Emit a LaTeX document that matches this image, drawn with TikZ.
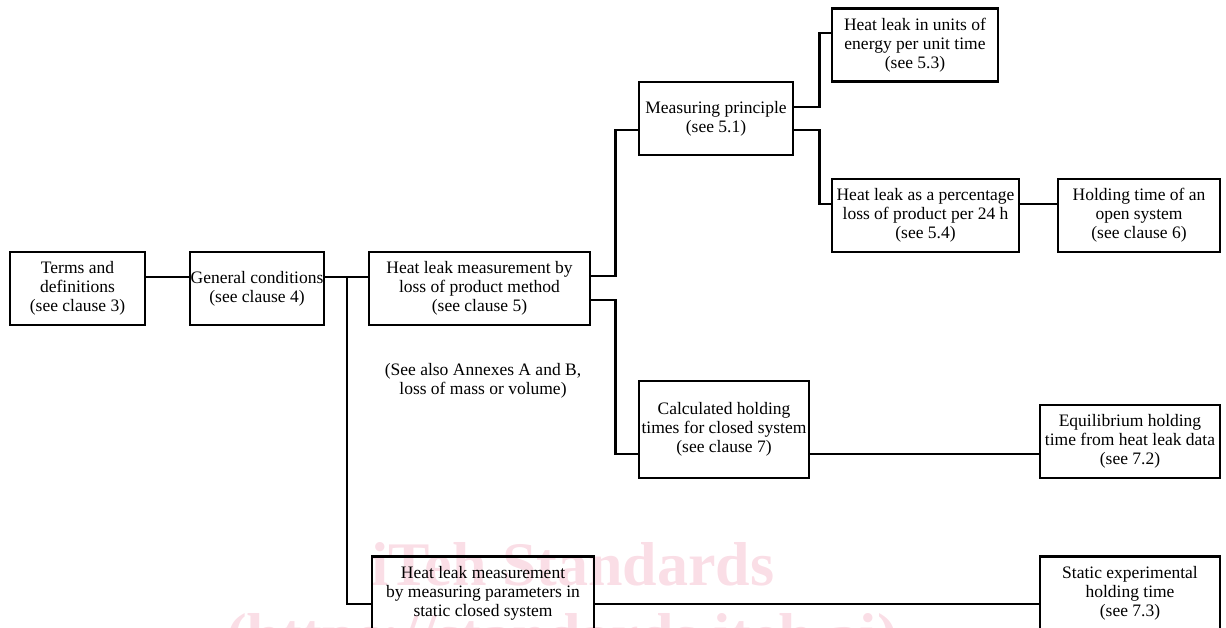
\documentclass[tikz,border=0pt]{standalone}
\usepackage{fontspec}
\setmainfont{Liberation Serif}
\usepackage{xcolor}
\usepackage{tikz}
\usetikzlibrary{positioning}
\definecolor{wmpink}{RGB}{250,222,230}

\begin{document}
\begin{tikzpicture}[
    x=1pt, y=-1pt,
    block/.style={draw, line width=2.6pt, inner sep=0pt, align=center, minimum height=73pt, font=\fontsize{17.5}{19}\selectfont},
    link/.style={line width=2.6pt},
    note/.style={align=center, inner sep=0pt, font=\fontsize{17.5}{19}\selectfont},
    watermark/.style={text=wmpink, font=\fontsize{62}{62}\selectfont\bfseries}
]
    \useasboundingbox (0,0) rectangle (1226,627);
    \clip (0,0) rectangle (1226,627);

    % Watermark
    \node[watermark, anchor=base] (wmtop) at (573,585) {iTeh Standards};
    \node[watermark, anchor=base] (wmbot) at (562,656) {(https://standards.iteh.ai)};

    % Blocks
    \node[block, minimum width=135pt] (terms) at (77.5,288.5) {Terms and\\definitions\\(see clause 3)};
    \node[block, minimum width=134pt] (general) at (257,288.5) {General conditions\\(see clause 4)};
    \node[block, minimum width=221pt] (loss) at (479.5,288.5) {Heat leak measurement by\\loss of product method\\(see clause 5)};
    \node[block, minimum width=154pt] (principle) at (716,118.5) {Measuring principle\\(see 5.1)};
    \node[block, minimum width=166pt] (energy) at (915,45) {Heat leak in units of\\energy per unit time\\(see 5.3)};
    \node[block, minimum width=187pt] (percent) at (925.5,215.5) {Heat leak as a percentage\\loss of product per 24 h\\(see 5.4)};
    \node[block, minimum width=162pt] (open) at (1139,215.5) {Holding time of an\\open system\\(see clause 6)};
    \node[block, minimum width=170pt, minimum height=97pt] (calc) at (724,429.5) {Calculated holding\\times for closed system\\(see clause 7)};
    \node[block, minimum width=180pt] (equil) at (1130,441.5) {Equilibrium holding\\time from heat leak data\\(see 7.2)};
    \node[block, minimum width=222pt] (static) at (483,593) {Heat leak measurement\\by measuring parameters in\\static closed system};
    \node[block, minimum width=180pt] (exper) at (1130,593) {Static experimental\\holding time\\(see 7.3)};

    % Note
    \node[note] (annex) at (483,381) {(See also Annexes A and B,\\loss of mass or volume)};

    % Links
    \coordinate (split) at (347,277);
    \draw[link] ([yshift=11.5pt]terms.east) -- ([yshift=11.5pt]general.west);
    \draw[link] ([yshift=11.5pt]general.east) -- ([yshift=11.5pt]loss.west);
    \draw[link] (split) |- ([yshift=-11pt]static.west);
    \draw[link] ([yshift=12.5pt]loss.east) -- ++(24,0) |- ([yshift=-11.5pt]principle.west);
    \draw[link] ([yshift=-11.5pt]loss.east) -- ++(24,0) |- ([yshift=-24.5pt]calc.west);
    \draw[link] ([yshift=11.5pt]principle.east) -- ++(25,0) |- ([yshift=12pt]energy.west);
    \draw[link] ([yshift=-11.5pt]principle.east) -- ++(25,0) |- ([yshift=11.5pt]percent.west);
    \draw[link] ([yshift=11.5pt]percent.east) -- ([yshift=11.5pt]open.west);
    \draw[link] ([yshift=-24.5pt]calc.east) -- ([yshift=-12.5pt]equil.west);
    \draw[link] ([yshift=-11pt]static.east) -- ([yshift=-11pt]exper.west);
\end{tikzpicture}
\end{document}
